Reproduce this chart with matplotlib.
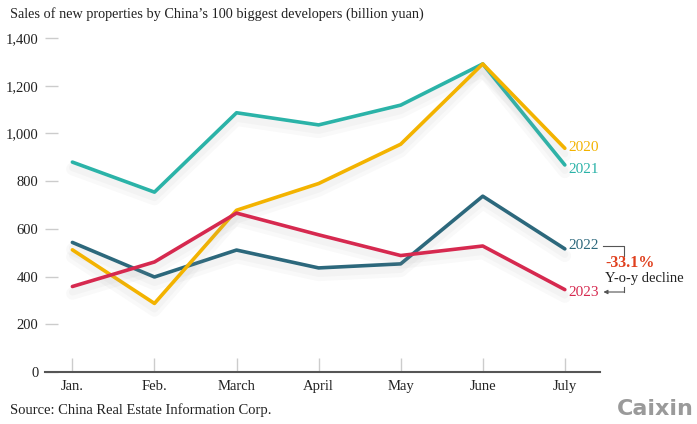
import matplotlib
matplotlib.use("Agg")
import matplotlib.pyplot as plt
import matplotlib.patheffects as pe

months = ["Jan.", "Feb.", "March", "April", "May", "June", "July"]
sales_2020 = [512, 287, 678, 790, 955, 1292, 938]
sales_2021 = [880, 754, 1087, 1036, 1119, 1292, 868]
sales_2022 = [543, 398, 511, 436, 453, 737, 516]
sales_2023 = [358, 461, 666, 575, 488, 528, 345]

colours = {"2020": "#f3b300", "2021": "#2bb3a8", "2022": "#2c687c", "2023": "#d6294f"}
series = [("2021", sales_2021), ("2022", sales_2022), ("2020", sales_2020), ("2023", sales_2023)]

serif = ["Liberation Serif", "DejaVu Serif"]

fig = plt.figure(figsize=(6.97, 4.24), dpi=100)
ax = fig.add_axes([0.065, 0.123, 0.796, 0.787])
x = list(range(len(months)))

# soft drop shadow under each line
shadow = [pe.SimpleLineShadow(offset=(0, -5), shadow_color="#999999", alpha=0.06, linewidth=9),
          pe.SimpleLineShadow(offset=(0, -4), shadow_color="#999999", alpha=0.06, linewidth=5),
          pe.Normal()]
for name, vals in series:
    ax.plot(x, vals, color=colours[name], lw=2.6, solid_capstyle="round",
            path_effects=shadow, zorder=3)

ax.set_xlim(-0.33, 6.43)
ax.set_ylim(0, 1400)
ax.set_yticks(range(0, 1401, 200))
ax.set_yticklabels(["{:,}".format(v) for v in range(0, 1401, 200)], fontsize=10.5, family=serif, color="#222222")
ax.set_xticks(x)
ax.set_xticklabels(months, fontsize=10.5, family=serif, color="#222222")
ax.tick_params(axis="y", direction="in", length=9, color="#cccccc", width=1, pad=5)
ax.tick_params(axis="x", direction="in", length=10, color="#cccccc", width=1, pad=6)
for s in ["top", "right", "left"]:
    ax.spines[s].set_visible(False)
ax.spines["bottom"].set_color("#555555")
ax.spines["bottom"].set_linewidth(1.5)

# end labels
lab_y = {"2020": 940, "2021": 850, "2022": 528, "2023": 335}
for name in ["2020", "2021", "2022", "2023"]:
    ax.text(6.04, lab_y[name], name, color=colours[name], fontsize=11, family=serif,
            va="center", ha="left")

# bracket annotation
ax.plot([6.47, 6.72, 6.72], [528, 528, 488], color="#555555", lw=0.8, clip_on=False)
ax.annotate("", xy=(6.47, 335), xytext=(6.72, 335),
            arrowprops=dict(arrowstyle="-|>", color="#555555", lw=0.8, mutation_scale=6,
                            shrinkA=0, shrinkB=0), annotation_clip=False)
ax.plot([6.72, 6.72], [335, 355], color="#555555", lw=0.8, clip_on=False)
ax.text(6.49, 458, "-33.1%", color="#e0401e", fontsize=11.5, fontweight="bold", family=serif,
        va="center", ha="left", clip_on=False)
ax.text(6.49, 390, "Y-o-y decline", color="#222222", fontsize=10.5, family=serif,
        va="center", ha="left", clip_on=False)

fig.text(0.014, 0.967, "Sales of new properties by China\u2019s 100 biggest developers (billion yuan)",
         fontsize=10.3, family=serif, color="#222222", va="center", ha="left")
fig.text(0.014, 0.032, "Source: China Real Estate Information Corp.",
         fontsize=10.5, family=serif, color="#222222", va="center", ha="left")
fig.text(0.995, 0.035, "Caixin", fontsize=16, fontweight="bold", family="DejaVu Sans",
         color="#9a9a9a", va="center", ha="right")

fig.savefig("out.png", dpi=100)
